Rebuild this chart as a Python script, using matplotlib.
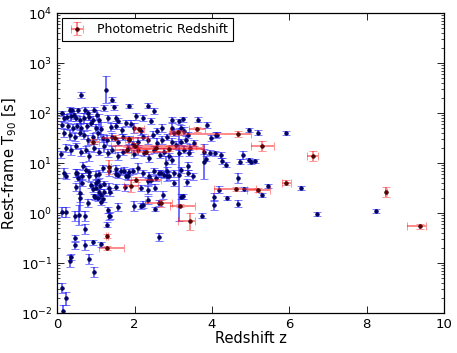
import numpy as np
import matplotlib
matplotlib.use("Agg")
import matplotlib.pyplot as plt

# ---- spectroscopic (blue) sample: redshift, rest-frame T90 [s], error [dex]
blue_z = [0.62, 1.26, 1.42, 1.86, 2.34, 0.13, 0.32, 0.38, 0.43, 0.55, 0.72, 0.81, 0.96, 1.03, 1.22, 1.48, 2.51, 2.05, 2.22,
          0.19, 0.26, 0.36, 0.49, 0.60, 0.70, 0.83, 0.92, 1.09, 1.31, 1.52, 1.58, 1.78, 1.92, 2.42, 2.98, 3.15, 3.24, 3.63, 3.86,
          0.12, 0.27, 0.40, 0.51, 0.62, 0.77, 0.88, 1.01, 1.13, 1.39, 1.52, 1.67, 1.99, 2.16, 2.70, 2.59, 2.98, 3.02, 3.20, 3.28,
          3.37, 4.14, 4.96, 5.20, 5.90,
          0.17, 0.32, 0.45, 0.58, 0.70, 0.81, 0.92, 1.05, 1.18, 1.29, 1.43, 1.56, 1.69, 1.86, 1.95, 2.08, 2.21, 2.34, 2.47, 2.59,
          2.72, 2.85, 2.98, 3.07, 3.20, 3.32, 3.44, 3.54,
          0.10, 0.23, 0.36, 0.49, 0.62, 0.75, 0.83, 0.96, 1.09, 1.22, 1.31, 1.43, 1.56, 1.69, 1.82, 1.98, 2.10, 2.25, 2.38, 2.51,
          2.66, 2.77, 2.90, 2.98, 3.15, 3.28, 3.41,
          3.97, 4.11, 3.79, 3.95, 4.07, 3.80, 3.85, 4.24, 4.27, 4.36, 4.72, 4.79, 4.95, 5.00, 5.11, 4.67, 4.18, 4.04, 4.04, 4.39,
          4.66, 4.83, 5.28, 5.45, 6.31, 6.72, 8.24, 3.73,
          0.19, 0.49, 0.66, 0.75, 0.83, 1.01, 1.18, 1.35, 1.52, 1.56, 1.72, 1.82, 1.95, 2.08, 2.21, 2.38, 2.51, 2.68, 2.81, 2.90,
          3.02, 3.20, 3.37, 3.38, 3.50,
          0.23, 0.52, 0.55, 0.64, 0.83, 1.07, 1.52, 1.65, 1.78, 1.86, 2.34, 2.42, 2.55, 2.64, 2.77, 2.85,
          0.49, 0.59, 0.64, 0.92, 1.01, 1.09, 0.96, 1.05, 1.13, 1.20, 1.52, 1.76, 2.16, 2.34, 2.53, 2.74, 2.83, 3.35, 3.02, 3.24,
          0.88, 1.01, 1.12, 1.22, 1.18, 1.05, 1.35, 1.37,
          0.58, 0.81, 0.46, 0.56, 0.72, 0.98, 1.13, 1.32, 1.37, 1.56, 1.98, 2.16, 2.22, 2.34, 2.53, 2.62, 3.20, 0.12, 0.23,
          0.72, 0.46, 0.46, 0.72, 0.83, 0.92, 0.96, 1.13, 1.29, 1.35, 0.32, 0.36, 0.12, 0.23, 0.15, 2.62, 3.15]
blue_t90 = [225, 293, 185, 136, 140, 100, 117, 113, 93, 113, 117, 100, 117, 93, 126, 132, 111, 86, 79,
            78, 83, 86, 79, 74, 79, 83, 74, 74, 79, 79, 71, 63, 61, 68, 74, 68, 76, 74, 58,
            58, 54, 50, 56, 50, 54, 63, 50, 48, 52, 54, 45, 50, 43, 50, 43, 50, 40, 50, 43,
            37, 37, 45, 40, 40,
            40, 37, 34, 40, 37, 29, 34, 40, 32, 29, 34, 27, 34, 29, 24, 27, 33, 29, 37, 25,
            29, 33, 27, 23, 27, 29, 20, 25,
            15, 20, 18.5, 21.5, 17, 18.5, 13.6, 20, 17, 21.5, 15.8, 18.5, 13.6, 17, 20, 15.4, 18.5, 15.8, 12.6, 18.5,
            14.7, 17, 13.6, 11.7, 15.8, 18.5, 15.8,
            32, 36, 17, 16.2, 15.8, 10.7, 12.3, 14.8, 11.2, 9.3, 10.7, 14.8, 11.5, 10.7, 11.2, 5.0, 2.95, 2.14, 1.48, 2.04,
            1.55, 3.09, 2.34, 3.55, 3.16, 0.98, 1.12, 0.89,
            6.3, 6.3, 8.6, 7.4, 5.4, 5.8, 7.9, 6.8, 7.6, 5.8, 7.1, 5.4, 6.8, 7.9, 6.3, 5.4, 6.8, 6.3, 10, 5.4,
            6.3, 7.4, 8.6, 6.3, 5.4,
            5.4, 6.3, 5.0, 5.4, 6.5, 6.1, 6.1, 6.8, 5.4, 6.5, 4.3, 4.6, 5.0, 6.3, 5.8, 6.8,
            3.4, 2.5, 4.0, 3.0, 3.2, 2.7, 2.15, 2.0, 2.25, 2.7, 3.4, 3.3, 3.2, 2.9, 3.2, 2.25, 5.4, 4.1, 4.0, 2.15,
            3.7, 4.0, 3.5, 3.9, 1.9, 4.3, 3.2, 2.7,
            2.0, 1.6, 0.86, 0.93, 0.89, 2.1, 1.7, 1.17, 0.89, 1.32, 1.36, 1.4, 1.47, 1.85, 1.22, 1.6, 2.1, 1.03, 1.05,
            0.48, 0.32, 0.23, 0.23, 0.12, 0.26, 0.065, 0.24, 0.59, 0.86, 0.11, 0.13, 0.032, 0.02, 0.011, 0.34, 5.8]
blue_err_dex = [0.06, 0.27, 0.05, 0.04, 0.05, 0.05, 0.06, 0.05, 0.08, 0.05, 0.06, 0.07, 0.05, 0.10, 0.06, 0.05, 0.06, 0.07, 0.06,
                0.08, 0.06, 0.10, 0.06, 0.08, 0.10, 0.06, 0.08, 0.12, 0.07, 0.06, 0.05, 0.06, 0.07, 0.06, 0.05, 0.05, 0.05, 0.05, 0.06,
                0.07, 0.06, 0.08, 0.06, 0.10, 0.07, 0.06, 0.08, 0.15, 0.08, 0.06, 0.07, 0.10, 0.07, 0.08, 0.06, 0.10, 0.07, 0.06, 0.08,
                0.06, 0.05, 0.04, 0.05, 0.04,
                0.08, 0.10, 0.08, 0.06, 0.08, 0.10, 0.07, 0.12, 0.08, 0.10, 0.08, 0.07, 0.06, 0.08, 0.07, 0.10, 0.06, 0.08, 0.07, 0.10,
                0.08, 0.06, 0.07, 0.08, 0.06, 0.07, 0.08, 0.06,
                0.07, 0.08, 0.10, 0.06, 0.08, 0.07, 0.10, 0.08, 0.07, 0.12, 0.08, 0.07, 0.08, 0.06, 0.07, 0.08, 0.10, 0.06, 0.08, 0.07,
                0.06, 0.08, 0.07, 0.08, 0.06, 0.07, 0.06,
                0.06, 0.06, 0.05, 0.05, 0.05, 0.35, 0.05, 0.06, 0.06, 0.05, 0.05, 0.08, 0.04, 0.04, 0.04, 0.10, 0.07, 0.08, 0.10, 0.04,
                0.07, 0.04, 0.04, 0.04, 0.04, 0.04, 0.04, 0.05,
                0.10, 0.08, 0.08, 0.07, 0.10, 0.08, 0.07, 0.10, 0.08, 0.06, 0.07, 0.08, 0.06, 0.10, 0.07, 0.08, 0.06, 0.07, 0.15, 0.08,
                0.07, 0.06, 0.08, 0.06, 0.07,
                0.06, 0.08, 0.06, 0.07, 0.06, 0.08, 0.06, 0.07, 0.06, 0.06, 0.07, 0.08, 0.06, 0.07, 0.06, 0.08,
                0.08, 0.35, 0.07, 0.06, 0.05, 0.06, 0.05, 0.06, 0.05, 0.06, 0.06, 0.07, 0.06, 0.08, 0.07, 0.08, 0.10, 0.07, 0.06, 0.05,
                0.06, 0.05, 0.06, 0.05, 0.06, 0.05, 0.10, 0.08,
                0.08, 0.08, 0.10, 0.20, 0.10, 0.06, 0.07, 0.06, 0.07, 0.08, 0.10, 0.06, 0.07, 0.08, 0.04, 0.06, 0.05, 0.10, 0.10,
                0.10, 0.06, 0.07, 0.10, 0.10, 0.05, 0.10, 0.05, 0.05, 0.07, 0.12, 0.06, 0.10, 0.13, 0.13, 0.08, 0.93]

# ---- photometric (red) sample
red_z =      [2.12, 3.61, 3.11, 4.66, 5.30, 6.60, 1.35, 0.92, 1.50, 1.85, 2.00, 2.55, 2.90, 2.30, 1.80,
              2.04, 1.91, 2.69, 3.18, 3.43, 4.61, 5.20, 5.92, 8.50, 9.38, 1.29, 1.29]
red_t90 =    [48, 48, 41, 38, 22, 13.8, 8.5, 27, 32, 30, 22, 20, 19.5, 17, 18,
              4.6, 3.5, 1.58, 1.41, 0.68, 3.0, 2.84, 4.0, 2.7, 0.54, 0.35, 0.20]
red_zerr_lo = [0.13, 0.20, 0.20, 1.76, 0.30, 0.15, 0.03, 0.10, 0.37, 0.10, 0.60, 0.70, 0.80, 0.40, 0.30,
               0.13, 0.17, 0.42, 0.27, 0.31, 0.56, 0.29, 0.10, 0.02, 0.33, 0.03, 0.22]
red_zerr_hi = [0.13, 0.20, 0.20, 0.34, 0.30, 0.15, 0.03, 0.15, 0.85, 0.10, 1.60, 1.20, 0.90, 0.60, 0.30,
               0.64, 0.17, 0.27, 0.38, 0.13, 0.54, 0.30, 0.12, 0.02, 0.15, 0.03, 0.45]
red_err_dex = [0.05, 0.05, 0.05, 0.06, 0.10, 0.10, 0.14, 0.05, 0.05, 0.05, 0.05, 0.05, 0.05, 0.05, 0.06,
               0.05, 0.12, 0.07, 0.03, 0.17, 0.04, 0.04, 0.05, 0.10, 0.05, 0.04, 0.04]

x_ticks = [0, 2, 4, 6, 8, 10]

plt.rcParams['font.family'] = ['DejaVu Sans']
plt.rcParams['mathtext.fontset'] = 'dejavusans'

fig = plt.figure(figsize=(4.57, 3.53), dpi=100)
ax = fig.add_axes([0.125, 0.113, 0.847, 0.850])

bt = np.array(blue_t90)
bd = np.array(blue_err_dex)
b_lo = bt - bt / 10**bd
b_hi = bt * 10**bd - bt
ax.errorbar(blue_z, bt, yerr=[b_lo, b_hi], fmt='o', ms=2.6, mfc='#000070', mec='#000050', mew=0.5,
            ecolor=(0.1, 0.1, 1.0, 0.8), elinewidth=1.1, capsize=2.6, capthick=1.1, zorder=2)

rt = np.array(red_t90)
rd = np.array(red_err_dex)
r_lo = rt - rt / 10**rd
r_hi = rt * 10**rd - rt
ax.errorbar(red_z, rt, xerr=[red_zerr_lo, red_zerr_hi], yerr=[r_lo, r_hi], fmt='o', ms=2.6,
            mfc='#600000', mec='#300000', mew=0.5, ecolor=(1.0, 0.1, 0.1, 0.65), elinewidth=1.1,
            capsize=2.6, capthick=1.1, zorder=3, label='Photometric Redshift')

ax.set_yscale('log')
ax.set_xlim(0, 10)
ax.set_ylim(1e-2, 1e4)
ax.set_xticks(x_ticks)
ax.tick_params(which='both', direction='in', top=True, right=True, labelsize=9.5)
ax.tick_params(which='major', length=5, width=0.6)
ax.tick_params(which='minor', length=2.5, width=0.5)
for s in ax.spines.values():
    s.set_linewidth(0.9)
ax.set_xlabel('Redshift z', fontsize=10.5, labelpad=0)
ax.set_ylabel('Rest-frame T$_{90}$ [s]', fontsize=10.5, labelpad=1)

leg = ax.legend(loc='upper left', numpoints=1, fontsize=9, fancybox=False, framealpha=1,
                edgecolor='black', borderaxespad=0.4, handlelength=1.6, borderpad=0.4)
leg.get_frame().set_linewidth(0.8)

fig.savefig('out.png', dpi=100, facecolor='white')
